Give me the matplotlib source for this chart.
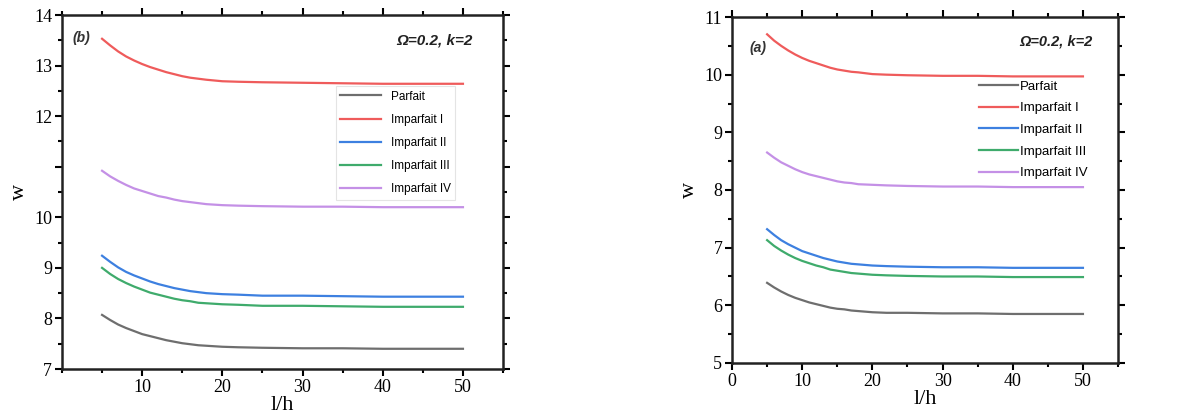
import matplotlib

matplotlib.use("Agg")
import matplotlib.pyplot as plt
from matplotlib.ticker import MultipleLocator, FixedLocator

# l/h sample points
lh = [5, 6, 7, 8, 9, 10, 11, 12, 13, 14, 15, 16, 17, 18, 20, 22, 25, 30, 35, 40, 45, 50]

labels = ["Parfait", "Imparfait I", "Imparfait II", "Imparfait III", "Imparfait IV"]

# panel (b)
b_parfait = [8.07, 7.97, 7.88, 7.81, 7.75, 7.69, 7.65, 7.61, 7.57, 7.54, 7.51,
             7.49, 7.47, 7.46, 7.44, 7.43, 7.42, 7.41, 7.41, 7.40, 7.40, 7.40]
b_imp1 = [13.53, 13.40, 13.28, 13.18, 13.10, 13.03, 12.97, 12.92, 12.87, 12.83, 12.79,
          12.76, 12.74, 12.72, 12.69, 12.68, 12.67, 12.66, 12.65, 12.64, 12.64, 12.64]
b_imp2 = [9.24, 9.12, 9.01, 8.92, 8.85, 8.79, 8.73, 8.68, 8.64, 8.60, 8.57,
          8.54, 8.52, 8.50, 8.48, 8.47, 8.45, 8.45, 8.44, 8.43, 8.43, 8.43]
b_imp3 = [9.00, 8.88, 8.78, 8.70, 8.63, 8.57, 8.51, 8.47, 8.43, 8.39, 8.36,
          8.34, 8.31, 8.30, 8.28, 8.27, 8.25, 8.25, 8.24, 8.23, 8.23, 8.23]
b_imp4 = [10.92, 10.81, 10.72, 10.64, 10.57, 10.52, 10.47, 10.42, 10.39, 10.35, 10.32,
          10.30, 10.28, 10.26, 10.24, 10.23, 10.22, 10.21, 10.21, 10.20, 10.20, 10.20]

# panel (a)
a_parfait = [6.39, 6.31, 6.24, 6.18, 6.13, 6.09, 6.05, 6.02, 5.99, 5.96, 5.94,
             5.93, 5.91, 5.90, 5.88, 5.87, 5.87, 5.86, 5.86, 5.85, 5.85, 5.85]
a_imp1 = [10.70, 10.59, 10.50, 10.42, 10.35, 10.29, 10.24, 10.20, 10.16, 10.12, 10.09,
          10.07, 10.05, 10.04, 10.01, 10.00, 9.99, 9.98, 9.98, 9.97, 9.97, 9.97]
a_imp2 = [7.32, 7.22, 7.13, 7.06, 7.00, 6.94, 6.90, 6.86, 6.82, 6.79, 6.76,
          6.74, 6.72, 6.71, 6.69, 6.68, 6.67, 6.66, 6.66, 6.65, 6.65, 6.65]
a_imp3 = [7.13, 7.03, 6.95, 6.88, 6.82, 6.77, 6.73, 6.69, 6.66, 6.62, 6.60,
          6.58, 6.56, 6.55, 6.53, 6.52, 6.51, 6.50, 6.50, 6.49, 6.49, 6.49]
a_imp4 = [8.65, 8.56, 8.48, 8.42, 8.36, 8.31, 8.27, 8.24, 8.21, 8.18, 8.15,
          8.13, 8.12, 8.10, 8.09, 8.08, 8.07, 8.06, 8.06, 8.05, 8.05, 8.05]

colors = ["#6e6e6e", "#ef5b5b", "#3d80e0", "#3fab6c", "#c490e6"]

SERIF = "Liberation Serif"
SANS = "Liberation Sans"

fig = plt.figure(figsize=(11.87, 4.19), dpi=100)
ax_b = fig.add_axes([0.0522, 0.1193, 0.3716, 0.8449])
ax_a = fig.add_axes([0.6167, 0.1337, 0.3252, 0.8257])


def style_axes(ax, ylim, yticks, yticklabels, xticks, xticklabels):
    ax.set_xlim(0, 55)
    ax.set_ylim(*ylim)
    ax.xaxis.set_major_locator(FixedLocator(xticks))
    ax.set_xticklabels(xticklabels)
    ax.xaxis.set_minor_locator(MultipleLocator(5))
    ax.yaxis.set_major_locator(FixedLocator(yticks))
    ax.set_yticklabels(yticklabels)
    ax.yaxis.set_minor_locator(MultipleLocator(0.5))
    for side in ax.spines.values():
        side.set_linewidth(1.8)
        side.set_color("#222222")
    ax.tick_params(which="both", top=True, right=True, direction="out", width=1.5)
    ax.tick_params(which="major", length=5)
    ax.tick_params(which="minor", length=3)
    ax.tick_params(axis="both", labelsize=13, pad=2)
    for lab in ax.get_xticklabels() + ax.get_yticklabels():
        lab.set_fontfamily(SERIF)
    ax.set_xlabel("l/h", fontsize=16, family=SERIF, labelpad=0)
    ax.set_ylabel("w", fontsize=16, family=SERIF)


series_b = [b_parfait, b_imp1, b_imp2, b_imp3, b_imp4]
series_a = [a_parfait, a_imp1, a_imp2, a_imp3, a_imp4]

for vals, col, lab in zip(series_b, colors, labels):
    ax_b.plot(lh, vals, color=col, lw=1.6, label=lab)
for vals, col, lab in zip(series_a, colors, labels):
    ax_a.plot(lh, vals, color=col, lw=1.6, label=lab)

style_axes(ax_b, (7, 14), [7, 8, 9, 10, 11, 12, 13, 14],
           ["7", "8", "9", "10", "", "12", "13", "14"],
           [10, 20, 30, 40, 50], ["10", "20", "30", "40", "50"])
style_axes(ax_a, (5, 11), [5, 6, 7, 8, 9, 10, 11],
           ["5", "6", "7", "8", "9", "10", "11"],
           [0, 10, 20, 30, 40, 50], ["0", "10", "20", "30", "40", "50"])

leg_b = ax_b.legend(loc="upper left", bbox_to_anchor=(0.608, 0.815), frameon=True,
                    fancybox=False, edgecolor="#e4e4e4", framealpha=1,
                    prop={"family": SANS, "size": 8.5}, handlelength=3.5,
                    labelspacing=0.95, borderpad=0.35)
leg_b.get_frame().set_linewidth(0.8)

leg_a = ax_a.legend(loc="upper left", bbox_to_anchor=(0.62, 0.84), frameon=True,
                    fancybox=False, edgecolor="white", framealpha=1,
                    prop={"family": SANS, "size": 9.5}, handlelength=2.9,
                    handletextpad=0.2, labelspacing=0.72, borderpad=0.1)

ax_b.text(0.023, 0.935, "(b)", transform=ax_b.transAxes, fontsize=10,
          family=SANS, weight="bold", style="italic", color="#333333", va="center")
ax_b.text(0.93, 0.929, "Ω=0.2, k=2", transform=ax_b.transAxes, fontsize=11,
          family=SANS, weight="bold", style="italic", ha="right", va="center",
          color="#222222")
ax_a.text(0.044, 0.91, "(a)", transform=ax_a.transAxes, fontsize=10,
          family=SANS, weight="bold", style="italic", color="#333333", va="center")
ax_a.text(0.933, 0.928, "Ω=0.2, k=2", transform=ax_a.transAxes, fontsize=10.5,
          family=SANS, weight="bold", style="italic", ha="right", va="center",
          color="#222222")

fig.savefig("out.png", dpi=100)
